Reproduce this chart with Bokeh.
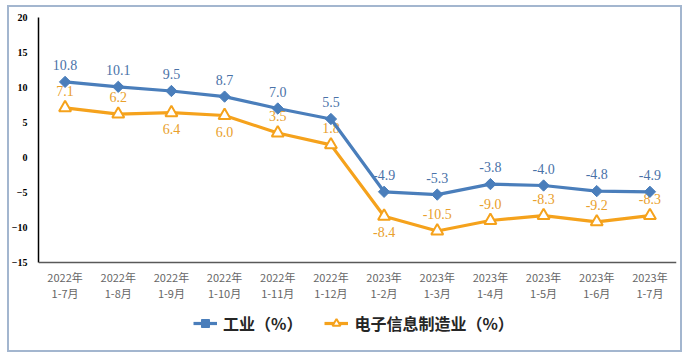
import math
from bokeh.plotting import figure
from bokeh.models import (FactorRange, Range1d, FixedTicker, Legend, LegendItem,
                          ColumnDataSource, Span, InlineStyleSheet)
from bokeh.core.properties import value
from bokeh.embed import file_html
from bokeh.resources import INLINE

years = ["2022年"] * 6 + ["2023年"] * 6
periods = ["1-7月", "1-8月", "1-9月", "1-10月", "1-11月", "1-12月",
           "1-2月", "1-3月", "1-4月", "1-5月", "1-6月", "1-7月"]
categories = [f"{y} {m}" for y, m in zip(years, periods)]
industry = [10.8, 10.1, 9.5, 8.7, 7.0, 5.5, -4.9, -5.3, -3.8, -4.0, -4.8, -4.9]
electronics = [7.1, 6.2, 6.4, 6.0, 3.5, 1.8, -8.4, -10.5, -9.0, -8.3, -9.2, -8.3]
electronics_label_side = ["above", "above", "below", "below", "above", "above",
                          "below", "above", "above", "above", "above", "above"]
y_ticks = [-15, -10, -5, 0, 5, 10, 15, 20]
y_min, y_max = -15, 20
series_names = ["工业（%）", "电子信息制造业（%）"]

BLUE = "#4a7ebb"
ORANGE = "#f5a21c"
BLUE_TXT = "#4a72a8"
ORANGE_TXT = "#e9a02c"

# frame spans to the bottom of the canvas so the category labels and legend are not clipped
H, TOP = 357, 17
PLOT_BOTTOM_PX = 262
unit = (PLOT_BOTTOM_PX - TOP) / (y_max - y_min)
y_low = y_max - (H - TOP) / unit

border_css = InlineStyleSheet(css="""
:host { position: relative; }
:host::after {
  content: "";
  position: absolute;
  left: 7px; top: 5px; right: 7px; bottom: 5px;
  border: 2px solid #a3b6cf;
  pointer-events: none;
  z-index: 1000;
}
""")

p = figure(width=689, height=H, output_backend="svg", toolbar_location=None,
           x_range=FactorRange(factors=categories, range_padding=0),
           y_range=Range1d(y_low, y_max), x_axis_location=None,
           min_border_left=38, min_border_right=13, min_border_top=TOP, min_border_bottom=0,
           stylesheets=[border_css])
p.outline_line_color = None
p.xgrid.grid_line_color = None
p.ygrid.grid_line_color = None
p.background_fill_color = "white"
p.border_fill_color = "white"

# y axis
p.yaxis.ticker = FixedTicker(ticks=y_ticks)
p.yaxis.bounds = (y_min, y_max)
p.yaxis.major_tick_line_color = None
p.yaxis.minor_tick_line_color = None
p.yaxis.axis_line_color = "black"
p.yaxis.axis_line_width = 1.5
p.yaxis.major_label_text_font = "Liberation Serif"
p.yaxis.major_label_text_font_style = "bold"
p.yaxis.major_label_text_font_size = "10px"
p.yaxis.major_label_text_color = "black"
p.yaxis.major_label_standoff = 5

# x axis line and category labels
p.add_layout(Span(location=y_min, dimension="width", line_color="#595959", line_width=1.5))

src = ColumnDataSource(dict(x=categories, ind=industry, ele=electronics,
                            yr=years, pr=periods, base=[y_min] * len(categories),
                            ind_txt=[f"{v:.1f}" for v in industry],
                            ele_txt=[f"{v:.1f}" for v in electronics],
                            ele_off=[-17 if s == "above" else 16 for s in electronics_label_side]))

p.text(x="x", y="base", text="yr", source=src, y_offset=14,
       text_align="center", text_baseline="middle",
       text_font=value("Noto Sans CJK SC"), text_font_size="11px", text_color="#666666")
p.text(x="x", y="base", text="pr", source=src, y_offset=30,
       text_align="center", text_baseline="middle",
       text_font=value("Noto Sans CJK SC"), text_font_size="11px", text_color="#666666")

# data labels (drawn before lines, as in the reference)
p.text(x="x", y="ind", text="ind_txt", source=src, y_offset=-17,
       text_align="center", text_baseline="middle",
       text_font=value("Liberation Serif"), text_font_size="14px", text_color=BLUE_TXT)
p.text(x="x", y="ele", text="ele_txt", source=src, y_offset="ele_off",
       text_align="center", text_baseline="middle",
       text_font=value("Liberation Serif"), text_font_size="14px", text_color=ORANGE_TXT)

l1 = p.line(x="x", y="ind", source=src, line_color=BLUE, line_width=3.2)
m1 = p.scatter(x="x", y="ind", source=src, marker="square", size=8, angle=math.pi / 4,
               fill_color=BLUE, line_color=BLUE)
l2 = p.line(x="x", y="ele", source=src, line_color=ORANGE, line_width=3.2)
m2 = p.scatter(x="x", y="ele", source=src, marker="triangle", size=12,
               fill_color="white", line_color=ORANGE, line_width=2)

legend = Legend(items=[LegendItem(label=series_names[0], renderers=[l1, m1]),
                       LegendItem(label=series_names[1], renderers=[l2, m2])],
                orientation="horizontal", location=(155, 22),
                label_text_font="Noto Sans CJK SC", label_text_font_style="bold",
                label_text_font_size="16px", label_text_color="#262626",
                border_line_color=None, background_fill_alpha=0,
                glyph_width=24, spacing=22, padding=0, margin=0, label_standoff=6)
p.add_layout(legend, "center")

open("out.html", "w").write(file_html(p, INLINE))
